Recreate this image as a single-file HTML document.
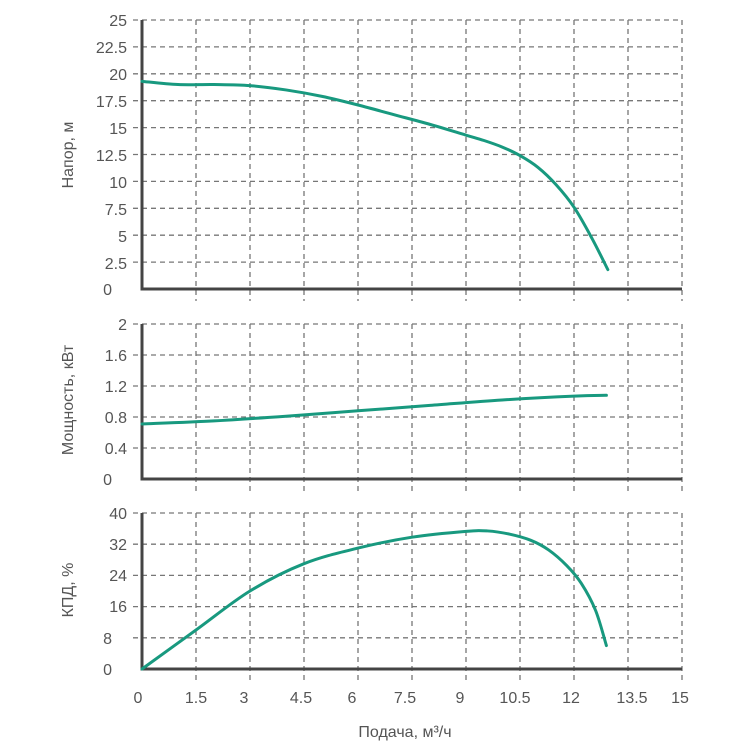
<!DOCTYPE html>
<html><head><meta charset="utf-8"><style>
body{margin:0;background:#fff;width:750px;height:750px;overflow:hidden}
svg text{font-family:"Liberation Sans","DejaVu Sans",sans-serif;fill:#555;font-size:16px}
</style></head><body>
<svg id="s" width="750" height="750" xmlns="http://www.w3.org/2000/svg">
<g id="g"></g>
<g text-anchor="end">
<text x="127" y="26">25</text><text x="127" y="53">22.5</text><text x="127" y="80">20</text><text x="127" y="107">17.5</text><text x="127" y="134">15</text><text x="127" y="161">12.5</text><text x="127" y="188">10</text><text x="127" y="215">7.5</text><text x="127" y="242">5</text><text x="127" y="269">2.5</text><text x="112" y="295">0</text>
<text x="127" y="330">2</text><text x="127" y="361">1.6</text><text x="127" y="392">1.2</text><text x="127" y="423">0.8</text><text x="127" y="454">0.4</text><text x="112" y="485">0</text>
<text x="127" y="519">40</text><text x="127" y="550">32</text><text x="127" y="581">24</text><text x="127" y="612">16</text><text x="112" y="644">8</text><text x="112" y="675">0</text>
</g>
<g text-anchor="middle">
<text x="138" y="703">0</text><text x="196" y="703">1.5</text><text x="244" y="703">3</text><text x="301" y="703">4.5</text><text x="352" y="703">6</text><text x="405" y="703">7.5</text><text x="460" y="703">9</text><text x="515" y="703">10.5</text><text x="571" y="703">12</text><text x="632" y="703">13.5</text><text x="680" y="703">15</text>
<text x="405" y="737">Подача, м³/ч</text>
<text transform="translate(73,155) rotate(-90)">Напор, м</text>
<text transform="translate(73,400) rotate(-90)">Мощность, кВт</text>
<text transform="translate(73,590) rotate(-90)">КПД, %</text>
</g>
</svg>
<script>
var g=document.getElementById('g'),NS='http://www.w3.org/2000/svg';
function el(t,a){var e=document.createElementNS(NS,t);for(var k in a)e.setAttribute(k,a[k]);g.appendChild(e);return e;}
function X(v){return 142+36*v;}
function panel(top,bot,n,data,max){
 var step=(bot-top)/n;
 for(var i=0;i<n;i++){var y=top+i*step;el('line',{x1:133,x2:682,y1:y,y2:y,stroke:'#777','stroke-width':1.3,'stroke-dasharray':'5,4'});}
 for(var j=1;j<=10;j++){var x=X(j*1.5);el('line',{x1:x,x2:x,y1:top,y2:bot+12,stroke:'#777','stroke-width':1.3,'stroke-dasharray':'5,4'});}
 el('line',{x1:142,x2:142,y1:top,y2:bot+1.5,stroke:'#444','stroke-width':3});
 el('line',{x1:140.5,x2:682,y1:bot,y2:bot,stroke:'#444','stroke-width':3});
 var pts=data.map(function(p){return [X(p[0]),bot-(bot-top)*p[1]/max];});
 var d='M'+pts[0][0]+','+pts[0][1];
 for(var i=0;i<pts.length-1;i++){var p0=pts[i-1]||pts[i],p1=pts[i],p2=pts[i+1],p3=pts[i+2]||p2;
  d+=' C'+(p1[0]+(p2[0]-p0[0])/6)+','+(p1[1]+(p2[1]-p0[1])/6)+' '+(p2[0]-(p3[0]-p1[0])/6)+','+(p2[1]-(p3[1]-p1[1])/6)+' '+p2[0]+','+p2[1];}
 el('path',{d:d,fill:'none',stroke:'#18997f','stroke-width':3,'stroke-linecap':'round'});
}
panel(20,289,10,[[0,19.3],[1,19],[2,19],[3,18.9],[4,18.5],[5,17.9],[6,17.1],[7,16.2],[8,15.3],[9,14.3],[9.5,13.8],[10,13.2],[10.5,12.4],[11,11.3],[11.5,9.7],[12,7.6],[12.5,4.7],[12.94,1.8]],25);
panel(324,479,5,[[0,0.71],[2,0.75],[4,0.81],[6,0.88],[8,0.95],[10,1.02],[12,1.07],[12.9,1.08]],2);
panel(513,669,5,[[0,0],[1.5,10],[3,20],[4.5,27],[6,31],[7.5,33.8],[9,35.3],[9.6,35.4],[10.2,34.6],[10.8,33],[11.3,30.5],[11.8,26.5],[12.2,22],[12.6,15],[12.9,6]],40);
</script>
</body></html>
